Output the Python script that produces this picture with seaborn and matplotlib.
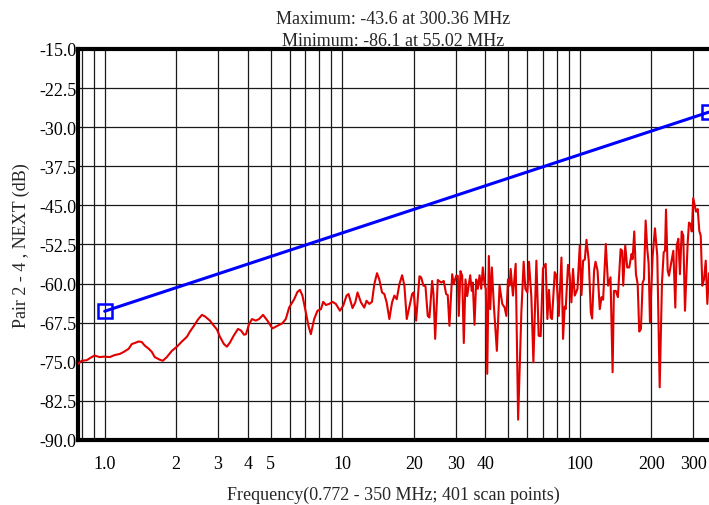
import matplotlib
matplotlib.use("Agg")
import matplotlib.pyplot as plt
from matplotlib.ticker import NullLocator
import seaborn as sns

# ---------------- data ----------------
freq_mhz = [
    0.772, 0.80, 0.84, 0.881, 0.907, 0.953, 1.0, 1.05, 1.102, 1.157, 1.203, 1.262, 1.300, 1.338, 1.391,
    1.432, 1.475, 1.533, 1.579, 1.625, 1.706, 1.757, 1.826, 1.918, 2.014, 2.114, 2.219, 2.285, 2.375,
    2.469, 2.567, 2.643, 2.773, 2.883, 2.968, 3.056, 3.177, 3.271, 3.368, 3.501, 3.640, 3.748, 3.859,
    3.935, 4.051, 4.171, 4.323, 4.464, 4.641, 4.842, 5.083, 5.336, 5.601, 5.788, 5.977, 6.274, 6.478,
    6.632, 6.799, 7.027, 7.207, 7.377, 7.617, 7.869, 8.133, 8.317, 8.538, 8.816, 9.097, 9.402, 9.779,
    10.10, 10.43, 10.63, 11.05, 11.35, 11.60, 11.99, 12.38, 12.66, 13.00, 13.34, 13.65, 14.01, 14.32,
    14.71, 15.04, 15.38, 15.79, 16.21, 16.58, 16.96, 17.41, 17.87, 18.27, 18.69, 19.69, 20.0, 20.47,
    21.14, 21.49, 21.98, 22.41, 22.91, 23.29, 23.91, 24.22, 24.62, 25.25, 26.10, 26.75, 27.38, 27.81,
    28.27, 29.03, 29.48, 30.17, 30.65, 30.95, 31.46, 31.99, 32.49, 33.03, 33.58, 34.57, 35.11, 35.45,
    36.05, 36.65, 37.23, 37.85, 38.47, 39.08, 39.73, 40.23, 40.78, 41.42, 41.99, 42.65, 43.48, 44.77,
    45.96, 47.18, 48.28, 49.09, 49.86, 50.68, 51.18, 52.33, 53.73, 55.02, 56.77, 58.05, 59.02, 60.17,
    61.12, 62.56, 63.79, 65.67, 67.14, 68.46, 70.0, 71.86, 73.05, 74.20, 75.44, 76.39, 78.46, 79.77,
    81.57, 83.74, 85.05, 86.40, 87.24, 89.22, 90.70, 92.21, 93.66, 95.26, 97.79, 100.0, 101.7, 103.3,
    105.0, 106.7, 109.1, 111.3, 112.7, 114.9, 116.5, 118.8, 121.4, 123.5, 125.4, 128.7, 131.6, 134.7,
    137.5, 139.2, 141.9, 144.7, 148.6, 150.9, 152.4, 155.4, 158.4, 161.5, 165.3, 166.9, 169.6, 172.4,
    175.3, 178.0, 180.9, 184.0, 186.3, 189.4, 192.4, 195.0, 197.5, 202.7, 207.3, 212.0, 217.0, 221.9,
    225.6, 228.5, 230.7, 234.5, 237.5, 242.2, 247.7, 252.5, 256.0, 260.0, 264.1, 268.6, 272.8, 277.3,
    284.7, 288.3, 293.1, 296.0, 298.0, 300.36, 308.6, 313.7, 318.6, 323.0, 328.1, 333.5, 339.1, 344.4,
    350.0,
]
next_db = [
    -75.4, -74.8, -74.7, -74.1, -73.8, -74.1, -74.0, -74.1, -73.7, -73.5, -73.1, -72.5, -71.6, -71.4, -71.1,
    -71.2, -71.9, -72.5, -73.1, -74.1, -74.6, -74.8, -74.1, -72.9, -72.1, -71.1, -70.2, -69.2, -68.1,
    -66.9, -66.0, -66.3, -67.1, -68.1, -68.8, -70.2, -71.6, -72.1, -71.3, -69.9, -68.7, -69.0, -69.8,
    -69.7, -67.8, -66.8, -67.1, -66.8, -66.0, -67.1, -68.6, -68.1, -67.6, -66.8, -64.6, -63.0, -61.6,
    -61.2, -62.3, -65.5, -68.1, -69.7, -66.8, -65.2, -64.9, -63.5, -64.1, -63.9, -63.5, -63.9, -65.2,
    -64.2, -62.3, -62.0, -64.7, -63.6, -61.7, -63.6, -64.6, -63.3, -63.9, -63.5, -60.1, -58.0, -59.2,
    -61.7, -62.0, -63.6, -66.8, -63.6, -62.3, -63.0, -60.1, -58.4, -60.4, -66.8, -62.0, -61.7, -67.1,
    -58.6, -58.8, -60.4, -60.5, -66.2, -66.5, -59.5, -62.0, -70.6, -59.3, -59.8, -59.5, -62.0, -62.2,
    -68.1, -58.2, -60.1, -58.5, -58.5, -66.2, -57.6, -58.5, -71.4, -59.2, -62.4, -58.4, -61.4, -59.8,
    -67.9, -59.2, -61.0, -58.4, -61.0, -56.9, -60.1, -61.0, -77.3, -54.7, -64.9, -56.9, -64.2, -72.9,
    -60.4, -63.9, -64.6, -66.2, -59.2, -60.4, -57.2, -62.3, -56.2, -86.1, -65.5, -55.8, -61.0, -61.7,
    -55.8, -62.6, -75.1, -55.6, -70.0, -70.1, -57.1, -56.2, -66.8, -61.2, -66.5, -66.8, -57.8, -58.5,
    -66.2, -55.0, -70.6, -64.4, -64.9, -56.4, -58.5, -63.6, -57.2, -62.3, -61.0, -52.7, -62.2, -55.6,
    -55.4, -51.6, -55.6, -65.5, -66.7, -57.5, -55.8, -57.5, -64.9, -62.6, -63.1, -52.4, -60.4, -58.8,
    -77.0, -61.4, -61.4, -62.6, -53.4, -53.7, -60.4, -52.7, -56.9, -56.9, -54.3, -55.3, -50.0, -58.2,
    -60.1, -69.2, -68.7, -59.8, -59.2, -47.9, -53.4, -56.2, -67.4, -54.7, -49.4, -54.7, -79.9, -59.8,
    -54.0, -53.7, -45.8, -57.5, -58.5, -56.2, -53.7, -64.6, -52.7, -51.4, -58.2, -50.0, -50.8, -65.2,
    -52.1, -48.3, -48.6, -50.0, -47.3, -43.6, -46.2, -45.7, -49.9, -50.8, -60.4, -59.2, -55.6, -63.9,
    -58.0,
]
assert len(freq_mhz) == len(next_db), (len(freq_mhz), len(next_db))

limit_freq_mhz = [1.0, 350.0]
limit_db = [-65.3, -27.1]

y_ticks = [-90.0, -82.5, -75.0, -67.5, -60.0, -52.5, -45.0, -37.5, -30.0, -22.5, -15.0]
x_grid = [0.8, 0.9, 1, 2, 3, 4, 5, 6, 7, 8, 9, 10, 20, 30, 40, 50, 60, 70, 80, 90, 100, 200, 300]
x_labels = ["", "", "1.0", "2", "3", "4", "5", "", "", "", "", "10", "20", "30", "40",
            "", "", "", "", "", "100", "200", "300"]

title_text = "Maximum: -43.6 at 300.36 MHz\nMinimum: -86.1 at 55.02 MHz"
x_title = "Frequency(0.772 - 350 MHz; 401 scan points)"
y_title = "Pair 2 - 4 , NEXT (dB)"

# ---------------- style ----------------
sns.set_style("white")
plt.rcParams['font.family'] = ['Liberation Serif', 'DejaVu Serif']

W, H = 709, 506
fig = plt.figure(figsize=(W / 100, H / 100), dpi=100)
ax = fig.add_axes([78 / W, (H - 441) / H, (W - 78) / W, (441 - 50) / H])

sns.lineplot(x=freq_mhz, y=next_db, ax=ax, color='#e00000', linewidth=1.5,
             estimator=None, sort=False, zorder=3)
sns.lineplot(x=limit_freq_mhz, y=limit_db, ax=ax, color='#0000ff', linewidth=2.2,
             marker='s', markersize=10, markerfacecolor='none',
             markeredgecolor='#0000ff', markeredgewidth=1.8,
             estimator=None, sort=False, zorder=4)

ax.set_xscale('log')
ax.set_xlim(0.772, 350)
ax.set_ylim(-90, -15)
ax.set_yticks(y_ticks)
ax.set_yticklabels([f"{v:.1f}" for v in y_ticks])
ax.set_xticks(x_grid)
ax.set_xticklabels(x_labels)
ax.xaxis.set_minor_locator(NullLocator())

ax.set_axisbelow(True)
ax.grid(True, color='#1a1a1a', linewidth=0.9)
ax.tick_params(axis='both', length=0, labelsize=13, colors='black')
ax.tick_params(axis='y', pad=1)
ax.tick_params(axis='x', pad=11)

for side in ['left', 'bottom', 'top']:
    ax.spines[side].set_visible(True)
    ax.spines[side].set_linewidth(3)
    ax.spines[side].set_color('black')
ax.spines['right'].set_visible(False)

ax.set_ylabel(y_title, fontsize=13, labelpad=7)
ax.set_xlabel(x_title, fontsize=13, labelpad=10)
ax.set_title(title_text, fontsize=13, pad=3, linespacing=1.4)

fig.savefig('out.png', dpi=100)
